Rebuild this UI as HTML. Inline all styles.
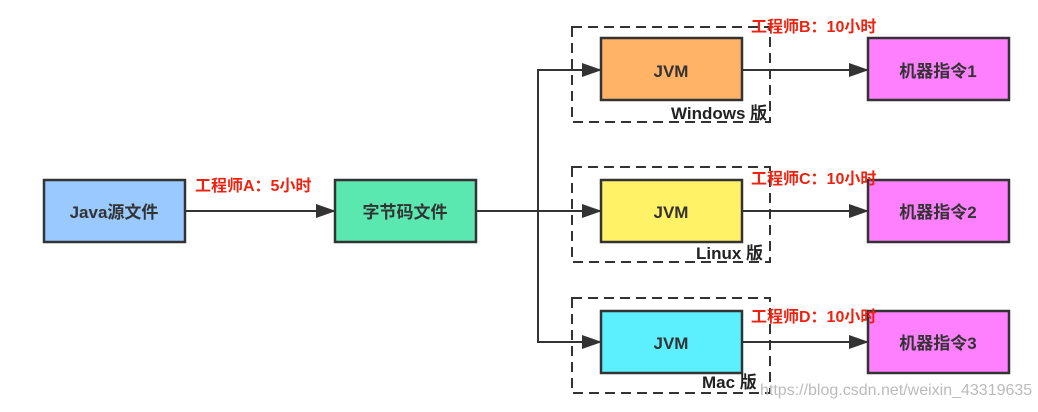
<!DOCTYPE html>
<html><head><meta charset="utf-8"><style>
body{margin:0;background:#fff;width:1038px;height:407px;overflow:hidden}
</style></head><body>
<svg width="1038" height="407" viewBox="0 0 1038 407" xmlns="http://www.w3.org/2000/svg" font-family="Liberation Sans, Noto Sans CJK SC, sans-serif" font-weight="bold">
<defs><marker id="a" markerWidth="20" markerHeight="14" refX="18" refY="7" orient="auto" markerUnits="userSpaceOnUse"><path d="M0,0 L20,7 L0,14 Z" fill="#333"/></marker></defs>
<g fill="none" stroke="#333" stroke-width="2" stroke-dasharray="10,6">
<rect x="572" y="27" width="198" height="95"/>
<rect x="572" y="167" width="198" height="95"/>
<rect x="572" y="298" width="198" height="95"/>
</g>
<g stroke="#333" stroke-width="2" fill="none">
<line x1="185" y1="211" x2="334" y2="211" marker-end="url(#a)"/>
<line x1="476" y1="211" x2="600" y2="211" marker-end="url(#a)"/>
<polyline points="600,70 538,70 538,342 600,342" marker-end="url(#a)"/>
<line x1="538" y1="70" x2="600" y2="70" marker-end="url(#a)"/>
<line x1="742" y1="70" x2="867" y2="70" marker-end="url(#a)"/>
<line x1="742" y1="211" x2="867" y2="211" marker-end="url(#a)"/>
<line x1="742" y1="342" x2="867" y2="342" marker-end="url(#a)"/>
</g>
<g stroke="#333" stroke-width="2.5">
<rect x="44" y="180" width="141" height="62" fill="#99c9ff"/>
<rect x="335" y="180" width="141" height="62" fill="#5ae8b0"/>
<rect x="601" y="38" width="141" height="62" fill="#ffb366"/>
<rect x="601" y="180" width="141" height="62" fill="#fff266"/>
<rect x="601" y="311" width="141" height="62" fill="#5cf0ff"/>
<rect x="868" y="38" width="141" height="62" fill="#ff80ff"/>
<rect x="868" y="180" width="141" height="62" fill="#ff80ff"/>
<rect x="868" y="311" width="141" height="62" fill="#ff80ff"/>
</g>
<g font-size="17" fill="#333" text-anchor="middle">
<text x="114" y="218">Java源文件</text>
<text x="405" y="218">字节码文件</text>
<text x="671" y="77">JVM</text>
<text x="671" y="218">JVM</text>
<text x="671" y="349">JVM</text>
<text x="938" y="77">机器指令1</text>
<text x="938" y="218">机器指令2</text>
<text x="938" y="349">机器指令3</text>
</g>
<g font-size="17" fill="#222">
<text x="671" y="119">Windows 版</text>
<text x="696" y="259">Linux 版</text>
<text x="702" y="388">Mac 版</text>
</g>
<g font-size="16" fill="#ee2211">
<text x="195" y="191">工程师A：5小时</text>
<text x="751" y="32">工程师B：10小时</text>
<text x="751" y="184">工程师C：10小时</text>
<text x="751" y="322">工程师D：10小时</text>
</g>
<text x="760" y="395" font-size="16" font-weight="normal" fill="#bbb">https://blog.csdn.net/weixin_43319635</text>
</svg>
</body></html>
